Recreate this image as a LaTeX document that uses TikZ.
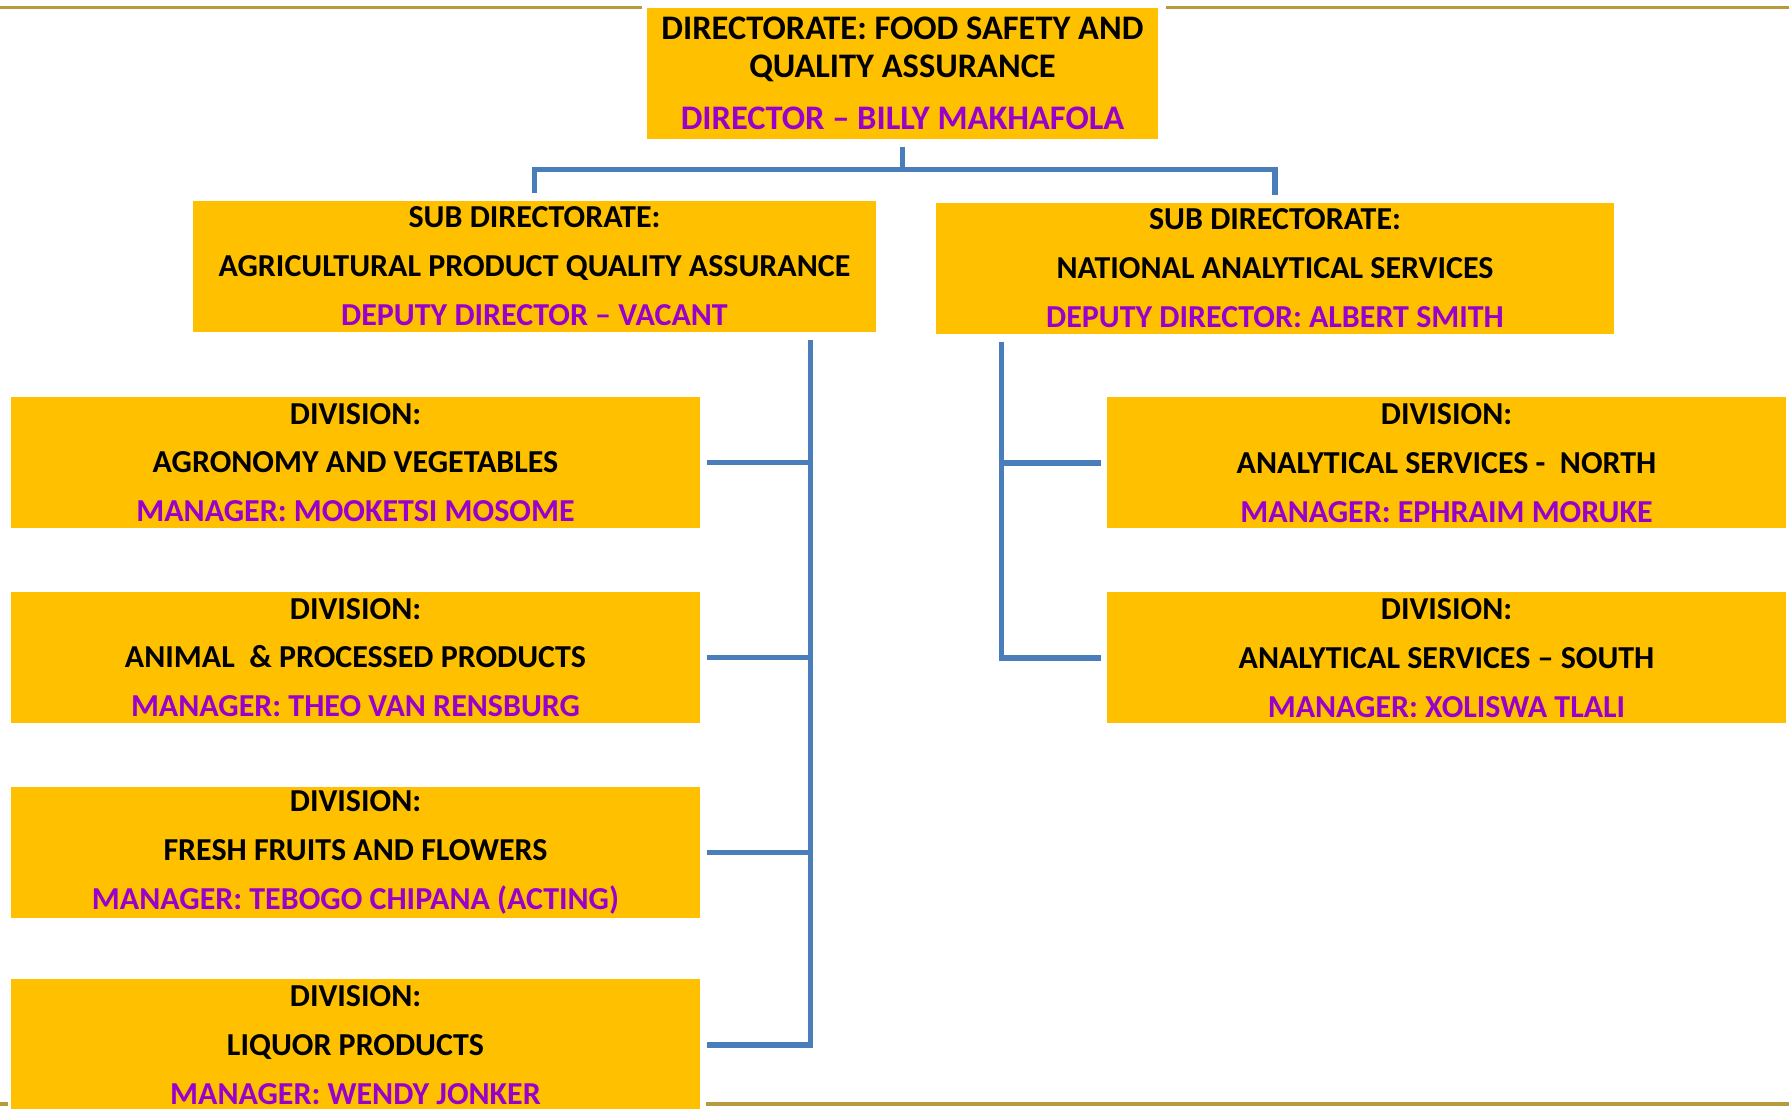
\documentclass[tikz,border=0pt]{standalone}
\usepackage{fontspec}
\setmainfont{Carlito}
\definecolor{boxgold}{RGB}{255,192,0}
\definecolor{namepurple}{RGB}{153,0,204}
\definecolor{linkblue}{RGB}{74,126,187}
\definecolor{rulegold}{RGB}{184,154,60}
\newcommand{\mgr}[1]{\textcolor{namepurple}{#1}}

\begin{document}
\begin{tikzpicture}[
		unit/.style={fill=boxgold, inner sep=0pt, minimum height=1.31cm, align=center,
				font=\fontsize{9.1}{13.9}\selectfont\bfseries},
		link/.style={color=linkblue, line width=1.5pt},
		rule/.style={color=rulegold, line width=1pt}
	]
	\useasboundingbox (0, 0) rectangle (17.89, 11.09);

	\draw[rule] (0, 11.015) -- (6.42, 11.015);
	\draw[rule] (11.66, 11.015) -- (17.89, 11.015);
	\draw[rule] (0, 0.05) -- (0.08, 0.05);
	\draw[rule] (7.06, 0.05) -- (17.89, 0.05);

	\node[unit, minimum width=5.11cm, font=\fontsize{9.8}{10.8}\selectfont\bfseries] (dir) at (9.025, 10.355)
		{DIRECTORATE: FOOD SAFETY AND\\QUALITY ASSURANCE\\[4.2pt]\mgr{DIRECTOR – BILLY MAKHAFOLA}};

	\node[unit, minimum width=6.83cm] (subqa) at (5.345, 8.425)
		{SUB DIRECTORATE:\\AGRICULTURAL PRODUCT QUALITY ASSURANCE\\\mgr{DEPUTY DIRECTOR – VACANT}};
	\node[unit, minimum width=6.78cm] (subnas) at (12.75, 8.405)
		{SUB DIRECTORATE:\\NATIONAL ANALYTICAL SERVICES\\\mgr{DEPUTY DIRECTOR: ALBERT SMITH}};

	\node[unit, minimum width=6.89cm] (agro) at (3.555, 6.465)
		{DIVISION:\\AGRONOMY AND VEGETABLES\\\mgr{MANAGER: MOOKETSI MOSOME}};
	\node[unit, minimum width=6.89cm] (animal) at (3.555, 4.515)
		{DIVISION:\\ANIMAL\ \ \& PROCESSED PRODUCTS\\\mgr{MANAGER: THEO VAN RENSBURG}};
	\node[unit, minimum width=6.89cm] (fruit) at (3.555, 2.565)
		{DIVISION:\\FRESH FRUITS AND FLOWERS\\\mgr{MANAGER: TEBOGO CHIPANA (ACTING)}};
	\node[unit, minimum width=6.89cm] (liquor) at (3.555, 0.64)
		{DIVISION:\\LIQUOR PRODUCTS\\\mgr{MANAGER: WENDY JONKER}};

	\node[unit, minimum width=6.79cm] (north) at (14.465, 6.46)
		{DIVISION:\\ANALYTICAL SERVICES -\ \ NORTH\\\mgr{MANAGER: EPHRAIM MORUKE}};
	\node[unit, minimum width=6.79cm] (south) at (14.465, 4.51)
		{DIVISION:\\ANALYTICAL SERVICES – SOUTH\\\mgr{MANAGER: XOLISWA TLALI}};

	\draw[link] ([yshift=-0.07cm]dir.south) -- ++(0, -0.23) coordinate (fork);
	\draw[link] (fork) -| ([yshift=0.07cm]subqa.north);
	\draw[link] (fork) -| ([yshift=0.07cm]subnas.north);

	\coordinate (qatop) at ([xshift=-0.66cm, yshift=-0.07cm]subqa.south east);
	\draw[link] (qatop) |- ([xshift=0.06cm]liquor.east);
	\foreach \div in {agro, animal, fruit}
		\draw[link] ([xshift=0.06cm]\div.east) -- (qatop |- \div.east);

	\coordinate (nastop) at ([xshift=0.66cm, yshift=-0.07cm]subnas.south west);
	\draw[link] (nastop) |- ([xshift=-0.05cm]south.west);
	\draw[link] ([xshift=-0.05cm]north.west) -- (nastop |- north.west);
\end{tikzpicture}
\end{document}
